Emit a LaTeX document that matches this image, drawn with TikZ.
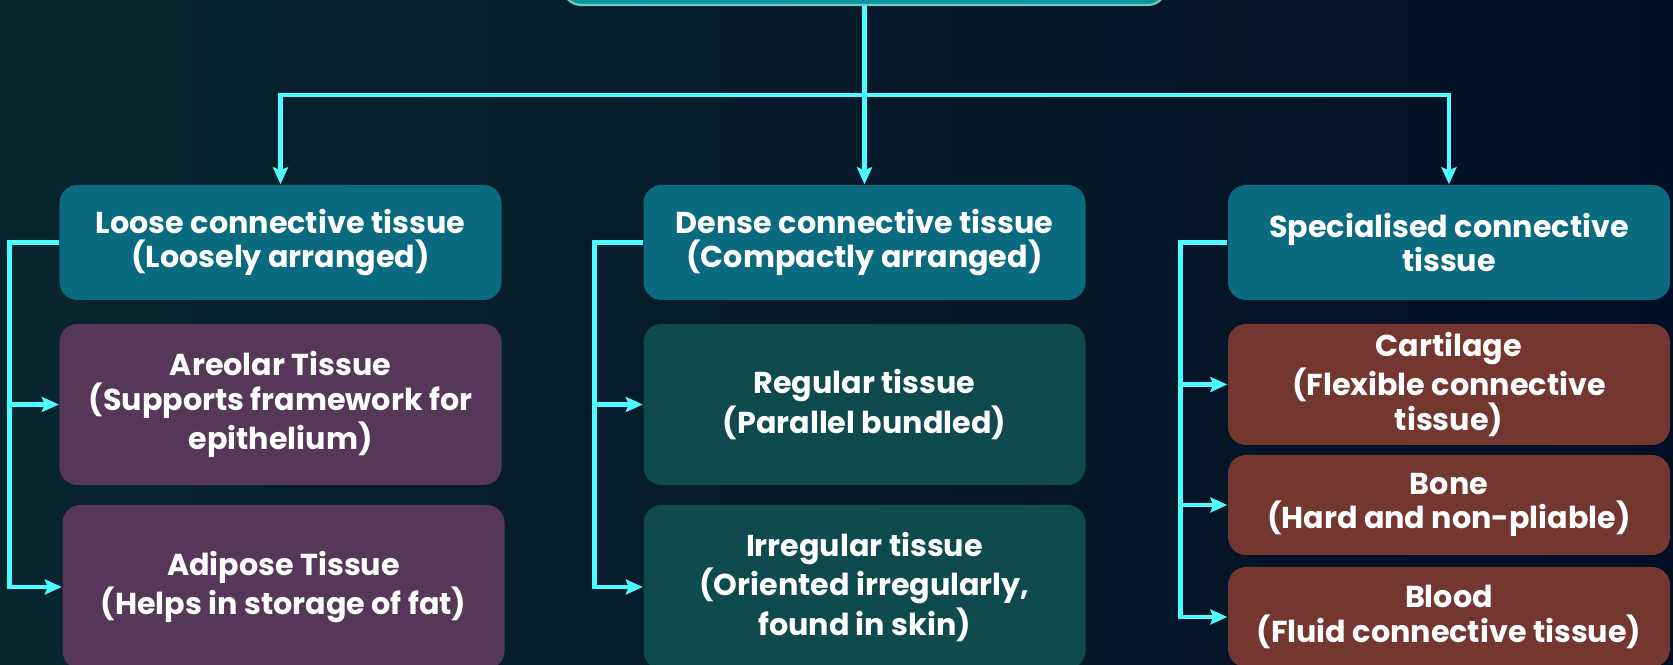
\documentclass[tikz,border=0pt]{standalone}
\usepackage{fontspec}
\setmainfont{Poppins}
\usetikzlibrary{arrows.meta,positioning}

\definecolor{bgleft}{HTML}{07252F}
\definecolor{bgmid}{HTML}{0D3B4A}
\definecolor{bgright}{HTML}{030F26}
\definecolor{cyanline}{HTML}{4DFCFF}
\definecolor{topfill}{HTML}{0A979C}
\definecolor{headfill}{HTML}{0A6A7F}
\definecolor{loosefill}{HTML}{573759}
\definecolor{densefill}{HTML}{0F4A4E}
\definecolor{specfill}{HTML}{74372F}

\begin{document}
\begin{tikzpicture}[>={Stealth[length=0.17cm, width=0.15cm, inset=0.03cm]},
    box/.style={rounded corners=0.18cm, text=white, align=center, inner sep=0pt,
        font=\bfseries\fontsize{8.6}{9.9}\selectfont, minimum width=4.42cm},
    head/.style={box, fill=headfill, minimum height=1.15cm},
    flow/.style={cyanline, line width=1.4pt}]
    % 背景
    \useasboundingbox (0, 0) rectangle (16.73, 6.65);
    \clip (0, 0) rectangle (16.73, 6.65);
    \shade[left color=bgleft, middle color=bgmid, right color=bgright] (0, 0) rectangle (16.73, 6.65);

    % 顶部框
    \node[box, fill=topfill, draw=topfill!55!white, line width=0.6pt, minimum width=6.03cm, minimum height=1cm] (top) at (8.645, 7.10) {};

    % 三个分类
    \node[head] (loose) at (2.805, 4.225) {Loose connective tissue\\(Loosely arranged)};
    \node[head] (dense) at (8.645, 4.225) {Dense connective tissue\\(Compactly arranged)};
    \node[head] (spec) at (14.49, 4.225) {Specialised connective\\tissue};

    % 疏松结缔组织
    \node[box, fill=loosefill, minimum height=1.61cm] (areolar) at (2.805, 2.605) {Areolar Tissue\\(Supports framework for\\epithelium)};
    \node[box, fill=loosefill, minimum height=1.64cm] (adipose) at (2.835, 0.78) {Adipose Tissue\\(Helps in storage of fat)};

    % 致密结缔组织
    \node[box, fill=densefill, minimum height=1.61cm] (regular) at (8.645, 2.605) {Regular tissue\\(Parallel bundled)};
    \node[box, fill=densefill, minimum height=1.64cm] (irregular) at (8.645, 0.78) {Irregular tissue\\(Oriented irregularly,\\found in skin)};

    % 特化结缔组织
    \node[box, fill=specfill, minimum height=1.21cm] (cartilage) at (14.49, 2.805) {Cartilage\\(Flexible connective\\tissue)};
    \node[box, fill=specfill, minimum height=1.0cm] (bone) at (14.49, 1.60) {Bone\\(Hard and non-pliable)};
    \node[box, fill=specfill, minimum height=1.0cm] (blood) at (14.49, 0.48) {Blood\\(Fluid connective tissue)};

    % 主干及分支
    \draw[flow] (top.south) -- ++(0, -0.89) coordinate (hub);
    \draw[flow, ->] (hub) -| (loose.north);
    \draw[flow, ->] (hub) -- (dense.north);
    \draw[flow, ->] (hub) -| (spec.north);

    % 侧边括线
    \foreach \kid in {areolar, adipose} {
        \draw[flow, ->] (loose.west) -- ++(-0.49, 0) |- (\kid.west);
    }
    \foreach \kid in {regular, irregular} {
        \draw[flow, ->] (dense.west) -- ++(-0.48, 0) |- (\kid.west);
    }
    \foreach \kid in {cartilage, bone, blood} {
        \draw[flow, ->] (spec.west) -- ++(-0.47, 0) |- (\kid.west);
    }
\end{tikzpicture}
\end{document}
